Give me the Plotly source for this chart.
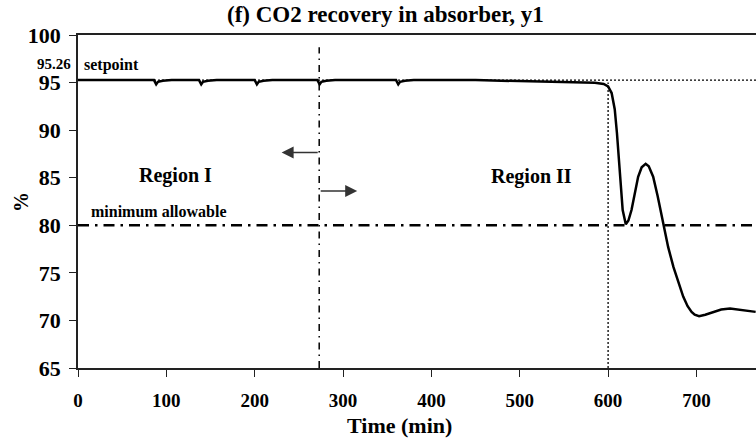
import plotly.graph_objects as go

# ---- data ----
time_min = [0, 86, 88.5, 90.5, 96, 106,
            137, 139.5, 141.5, 147, 157,
            200, 202.5, 204.5, 210, 220,
            271, 273.5, 275.5, 281, 291,
            360, 362.5, 364.5, 370, 380,
            450, 500, 550, 585, 595, 600, 604, 607.5, 610, 612, 614, 616.5,
            620, 623, 626.5, 630, 634, 638, 642.5, 646, 651, 656, 662, 668,
            674, 680, 685, 690, 694.5, 698, 703, 710, 719, 728, 738, 750, 767]
recovery_pct = [95.26, 95.26, 94.82, 95.08, 95.2, 95.26,
                95.26, 94.82, 95.08, 95.2, 95.26,
                95.26, 94.82, 95.08, 95.2, 95.26,
                95.26, 94.82, 95.08, 95.2, 95.26,
                95.26, 94.82, 95.08, 95.2, 95.26,
                95.26, 95.17, 95.08, 94.97, 94.85, 94.6, 93.9, 92.2, 89.7, 86.9, 84.0, 81.6,
                80.1, 80.5, 81.6, 83.4, 85.1, 86.1, 86.46, 86.2, 85.1, 83.1, 80.2, 77.7,
                75.6, 73.8, 72.5, 71.5, 70.9, 70.6, 70.45, 70.6, 70.9, 71.15, 71.25, 71.1, 70.9]

setpoint_value = 95.26
min_allowable = 80
region_boundary_time = 273
fault_time = 600
x_ticks = [0, 100, 200, 300, 400, 500, 600, 700]
y_ticks = [65, 70, 75, 80, 85, 90, 95, 100]
x_range = [0, 767.4]
y_range = [65, 100]

FONT = "Liberation Serif"

fig = go.Figure()

# setpoint dotted line
fig.add_trace(go.Scatter(x=[x_range[0], x_range[1]], y=[setpoint_value, setpoint_value],
                         mode="lines", line=dict(color="black", width=1.3, dash="2px,2px"),
                         hoverinfo="skip", showlegend=False))
# fault time dotted vertical
fig.add_trace(go.Scatter(x=[fault_time, fault_time], y=[y_range[0], 95.0],
                         mode="lines", line=dict(color="black", width=1.3, dash="2px,2px"),
                         hoverinfo="skip", showlegend=False))
# region boundary dash-dot vertical
fig.add_trace(go.Scatter(x=[region_boundary_time, region_boundary_time], y=[y_range[0], 98.7],
                         mode="lines", line=dict(color="black", width=1.5, dash="7px,5px,1.5px,5px"),
                         hoverinfo="skip", showlegend=False))
# minimum allowable dash-dot horizontal
fig.add_trace(go.Scatter(x=[x_range[0], x_range[1]], y=[min_allowable, min_allowable],
                         mode="lines", line=dict(color="black", width=2.5, dash="11px,6px,2.5px,6px"),
                         hoverinfo="skip", showlegend=False))
# main curve
fig.add_trace(go.Scatter(x=time_min, y=recovery_pct, mode="lines",
                         line=dict(color="black", width=2.5),
                         showlegend=False))

bold = dict(family=FONT, color="black", weight="bold")

annotations = [
    dict(text="(f) CO2 recovery in absorber, y1", xref="paper", yref="paper",
         x=(386 - 78.5) / 677.5, y=(368 - 15) / 332.5, xanchor="center", yanchor="middle",
         showarrow=False, font=dict(size=23, **bold)),
    dict(text="Time (min)", xref="paper", yref="paper",
         x=(400 - 78.5) / 677.5, y=(368 - 425) / 332.5, xanchor="center", yanchor="middle",
         showarrow=False, font=dict(size=22, **bold)),
    dict(text="%", xref="paper", yref="paper",
         x=(21 - 78.5) / 677.5, y=0.5, xanchor="center", yanchor="middle", textangle=-90,
         showarrow=False, font=dict(size=20, **bold)),
    dict(text="95.26", xref="paper", yref="y",
         x=(74 - 78.5) / 677.5, y=96.95, xanchor="right", yanchor="middle",
         showarrow=False, font=dict(size=15, **bold)),
    dict(text="setpoint", xref="x", yref="y",
         x=5, y=96.8, xanchor="left", yanchor="middle",
         showarrow=False, font=dict(size=16, **bold)),
    dict(text="minimum allowable", xref="x", yref="y",
         x=13, y=81.4, xanchor="left", yanchor="middle",
         showarrow=False, font=dict(size=16, **bold)),
    dict(text="Region I", xref="x", yref="y",
         x=67, y=85.2, xanchor="left", yanchor="middle",
         showarrow=False, font=dict(size=20, **bold)),
    dict(text="Region II", xref="x", yref="y",
         x=465, y=85.1, xanchor="left", yanchor="middle",
         showarrow=False, font=dict(size=20, **bold)),
    # arrows
    dict(text="", xref="x", yref="y", axref="x", ayref="y",
         x=230.5, y=87.65, ax=region_boundary_time, ay=87.65,
         showarrow=True, arrowhead=2, arrowsize=1.5, arrowwidth=1.6, arrowcolor="#333333"),
    dict(text="", xref="x", yref="y", axref="x", ayref="y",
         x=316, y=83.6, ax=region_boundary_time, ay=83.6,
         showarrow=True, arrowhead=2, arrowsize=1.5, arrowwidth=1.6, arrowcolor="#333333"),
]

fig.update_layout(
    width=756, height=438,
    margin=dict(l=78, r=0, t=35, b=70, pad=0),
    paper_bgcolor="white", plot_bgcolor="white",
    font=dict(family=FONT, color="black"),
    showlegend=False,
    annotations=annotations,
    xaxis=dict(range=x_range, tickvals=x_ticks, ticks="outside", ticklen=7, tickwidth=1.3,
               tickcolor="#222", showline=True, linecolor="#222", linewidth=1.5,
               mirror=True, showgrid=False, zeroline=False,
               tickfont=dict(size=19, **bold), ticklabelstandoff=7),
    yaxis=dict(range=y_range, tickvals=y_ticks, ticks="outside", ticklen=7, tickwidth=1.3,
               tickcolor="#222", showline=True, linecolor="#222", linewidth=1.5,
               showgrid=False, zeroline=False,
               tickfont=dict(size=22, **bold), ticklabelstandoff=4),
)

fig.write_html("out.html")
